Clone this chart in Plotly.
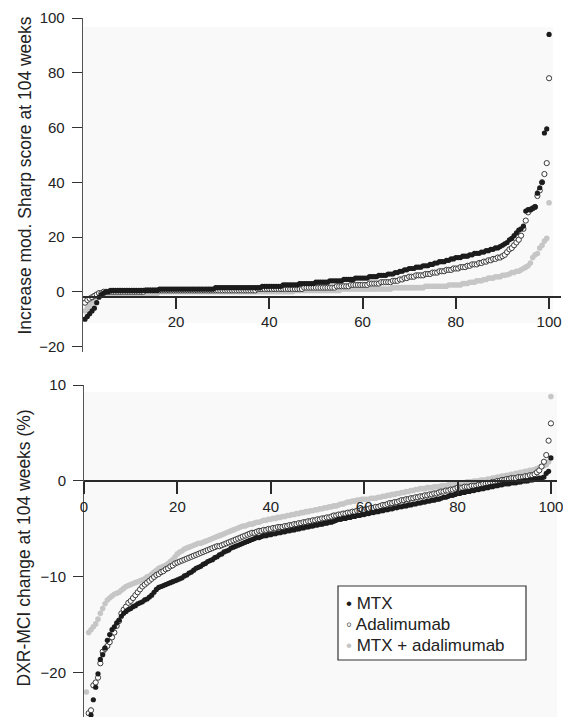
import plotly.graph_objects as go

# ---------------- data (sorted patient values) ----------------
series_names = ["MTX", "Adalimumab", "MTX + adalimumab"]

# Top panel: increase in modified Sharp score at 104 weeks
top_mtx = [
    -10, -9, -8, -7, -6, -4, -2, -1, -0.5, 0, 0, 0.5, 0.5, 0.5, 0.5, 0.5, 0.5, 0.5, 0.5, 0.5,
    0.5, 0.5, 0.5, 0.5, 0.5, 0.5, 0.5, 0.5, 0.5, 0.5, 0.5, 0.5, 1, 1, 1, 1, 1, 1, 1, 1,
    1, 1, 1, 1, 1, 1, 1, 1, 1, 1, 1, 1, 1, 1, 1, 1, 1.5, 1.5, 1.5, 1.5,
    1.5, 1.5, 1.5, 1.5, 1.5, 1.5, 1.5, 1.5, 1.5, 1.5, 1.5, 1.5, 1.5, 1.5, 1.5, 1.5, 2, 2, 2, 2,
    2, 2, 2, 2, 2, 2.5, 2.5, 2.5, 2.5, 2.5, 2.5, 2.5, 3, 3, 3, 3, 3, 3, 3, 3.5,
    3.5, 3.5, 3.5, 3.5, 3.5, 4, 4, 4, 4, 4, 4, 4.5, 4.5, 4.5, 4.5, 4.5, 5, 5, 5, 5,
    5, 5, 5.5, 5.5, 5.5, 5.5, 6, 6, 6, 6, 6.5, 6.5, 6.5, 7, 7, 7.5, 7.5, 8, 8, 8.5,
    8.5, 8.5, 9, 9, 9, 9.5, 9.5, 9.5, 10, 10, 10.5, 10.5, 11, 11, 11, 11.5, 11.5, 12, 12, 12.5,
    12.5, 12.5, 13, 13, 13, 13.5, 13.5, 14, 14, 14, 14.5, 14.5, 15, 15, 15.5, 15.5, 16, 16, 16.5, 17,
    17.5, 18, 19, 19.5, 20.5, 21.5, 22.5, 23, 24, 29.5, 30, 30, 30.5, 31, 36, 38, 40, 58, 59.5, 94,
]
top_ada = [
    -4, -3, -2.5, -2, -1.5, -1, -0.5, -0.5, 0, 0, 0, 0, 0, 0, 0, 0, 0, 0, 0, 0,
    0, 0, 0, 0, 0, 0, 0.5, 0.5, 0.5, 0.5, 0.5, 0.5, 0.5, 0.5, 0.5, 0.5, 0.5, 0.5, 0.5, 0.5,
    0.5, 0.5, 0.5, 0.5, 0.5, 0.5, 0.5, 0.5, 0.5, 0.5, 0.5, 0.5, 0.5, 0.5, 0.5, 0.5, 0.5, 0.5, 0.5, 0.5,
    0.5, 0.5, 0.5, 0.5, 0.5, 0.5, 0.5, 0.5, 0.5, 0.5, 0.5, 0.5, 0.5, 0.5, 1, 1, 1, 1, 1, 1,
    1, 1, 1, 1, 1, 1, 1, 1, 1, 1, 1, 1, 1, 1, 1.5, 1.5, 1.5, 1.5, 1.5, 1.5,
    1.5, 1.5, 1.5, 1.5, 1.5, 1.5, 1.5, 1.5, 2, 2, 2, 2, 2, 2, 2.5, 2.5, 2.5, 2.5, 2.5, 2.5,
    2.5, 2.5, 3, 3, 3, 3, 3, 3.5, 3.5, 3.5, 3.5, 3.5, 4, 4, 4, 4.5, 4.5, 5, 5, 5.5,
    5.5, 5.5, 6, 6, 6, 6, 6.5, 6.5, 6.5, 7, 7, 7, 7.5, 7.5, 7.5, 8, 8, 8, 8.5, 8.5,
    8.5, 9, 9, 9, 9.5, 9.5, 10, 10, 10, 10.5, 10.5, 11, 11, 11.5, 11.5, 12, 12, 12.5, 12.5, 13,
    13.5, 14.5, 15.5, 16, 17, 18, 19, 20.5, 23, 26, 29, 30, 30.5, 31, 35, 37, 40, 43, 47, 78,
]
top_combo = [
    -7, -6, -5, -4, -3, -2, -1.5, -1, -1, -0.5, -0.5, -0.5, -0.5, -0.5, -0.5, -0.5, -0.5, -0.5, -0.5, -0.5,
    -0.5, -0.5, -0.5, -0.5, -0.5, -0.5, -0.5, -0.5, -0.5, -0.5, -0.5, -0.5, 0, 0, 0, 0, 0, 0, 0, 0,
    0, 0, 0, 0, 0, 0, 0, 0, 0, 0, 0, 0, 0, 0, 0, 0, 0, 0, 0, 0,
    0, 0, 0, 0, 0, 0, 0, 0, 0, 0, 0, 0, 0, 0, 0, 0, 0, 0, 0, 0,
    0, 0, 0, 0, 0, 0, 0, 0, 0, 0, 0.5, 0.5, 0.5, 0.5, 0.5, 0.5, 0.5, 0.5, 0.5, 0.5,
    0.5, 0.5, 0.5, 0.5, 0.5, 0.5, 0.5, 0.5, 0.5, 0.5, 1, 1, 1, 1, 1, 1, 1, 1, 1, 1,
    1, 1, 1, 1, 1, 1, 1, 1, 1, 1, 1, 1, 1.5, 1.5, 1.5, 1.5, 1.5, 1.5, 1.5, 1.5,
    1.5, 1.5, 1.5, 1.5, 1.5, 1.5, 2, 2, 2, 2, 2, 2, 2, 2, 2, 2, 2.5, 2.5, 2.5, 2.5,
    2.5, 2.5, 3, 3, 3, 3.5, 3.5, 3.5, 4, 4, 4, 4.5, 4.5, 5, 5, 5, 5.5, 5.5, 5.5, 6,
    6, 6.2, 6.5, 7, 7, 7.5, 7.5, 8, 8.5, 9, 9.5, 10.5, 12.5, 13.5, 14, 16, 17, 18.5, 19.5, 32.5,
]

# Bottom panel: DXR-MCI change at 104 weeks (%)
bot_mtx = [
    -25.5, -25, -24.4, -22.8, -21.5, -20.1, -18.6, -18.1, -17.4, -16.6, -16, -15.5, -15.2, -14.8, -14.5, -14.1, -13.8, -13.6, -13.4, -13.3,
    -13.1, -13, -12.8, -12.7, -12.6, -12.4, -12.3, -12.1, -11.9, -11.6, -11.3, -11.1, -11, -10.9, -10.8, -10.7, -10.6, -10.5, -10.4, -10.3,
    -10.2, -10.1, -9.9, -9.8, -9.6, -9.5, -9.3, -9.1, -9.0, -8.9, -8.7, -8.6, -8.4, -8.3, -8.2, -8.0, -7.9, -7.7, -7.6, -7.4,
    -7.3, -7.2, -7.0, -6.9, -6.8, -6.7, -6.6, -6.5, -6.4, -6.3, -6.2, -6.1, -6.0, -5.9, -5.9, -5.8, -5.7, -5.7, -5.6, -5.6,
    -5.5, -5.5, -5.4, -5.4, -5.3, -5.3, -5.2, -5.2, -5.1, -5.1, -5.0, -5.0, -4.9, -4.9, -4.8, -4.8, -4.7, -4.7, -4.6, -4.6,
    -4.5, -4.5, -4.4, -4.4, -4.3, -4.3, -4.2, -4.1, -4.0, -4.0, -3.9, -3.9, -3.8, -3.8, -3.7, -3.7, -3.6, -3.6, -3.5, -3.5,
    -3.4, -3.4, -3.3, -3.3, -3.2, -3.2, -3.1, -3.1, -3.0, -3.0, -2.9, -2.9, -2.8, -2.8, -2.7, -2.7, -2.6, -2.6, -2.5, -2.5,
    -2.4, -2.4, -2.3, -2.3, -2.2, -2.2, -2.1, -2.1, -2.0, -2.0, -1.9, -1.9, -1.8, -1.7, -1.7, -1.6, -1.5, -1.5, -1.4, -1.3,
    -1.3, -1.2, -1.2, -1.1, -1.1, -1.0, -1.0, -0.9, -0.9, -0.8, -0.8, -0.7, -0.7, -0.6, -0.6, -0.5, -0.5, -0.4, -0.4, -0.3,
    -0.3, -0.3, -0.2, -0.2, -0.2, -0.1, -0.1, 0.0, 0.0, 0.0, 0.1, 0.1, 0.2, 0.2, 0.3, 0.3, 0.4, 0.8, 1.0, 2.4,
]
bot_ada = [
    -25, -24.2, -23.9, -21.3, -21, -20.5, -19, -17.8, -17.5, -17.2, -16.8, -16.3, -15.8, -15.1, -14.6, -13.8, -13.4, -13.1, -12.7, -12.5,
    -12.2, -11.9, -11.6, -11.3, -11.0, -10.8, -10.6, -10.4, -10.2, -10.0, -9.8, -9.7, -9.5, -9.4, -9.2, -9.1, -8.9, -8.8, -8.6, -8.5,
    -8.4, -8.3, -8.2, -8.1, -8.0, -7.9, -7.8, -7.7, -7.6, -7.5, -7.4, -7.3, -7.2, -7.1, -7.0, -6.9, -6.8, -6.8, -6.7, -6.6,
    -6.5, -6.4, -6.3, -6.2, -6.1, -6.0, -5.9, -5.8, -5.7, -5.6, -5.5, -5.4, -5.4, -5.3, -5.2, -5.2, -5.1, -5.1, -5.0, -5.0,
    -4.9, -4.9, -4.8, -4.8, -4.8, -4.7, -4.7, -4.6, -4.6, -4.5, -4.5, -4.4, -4.4, -4.3, -4.3, -4.2, -4.2, -4.1, -4.1, -4.0,
    -4.0, -3.9, -3.9, -3.8, -3.8, -3.7, -3.6, -3.6, -3.5, -3.5, -3.4, -3.4, -3.3, -3.3, -3.2, -3.2, -3.1, -3.1, -3.0, -3.0,
    -2.9, -2.9, -2.8, -2.8, -2.7, -2.7, -2.6, -2.5, -2.5, -2.4, -2.3, -2.3, -2.2, -2.2, -2.1, -2.0, -2.0, -1.9, -1.9, -1.8,
    -1.8, -1.7, -1.7, -1.6, -1.6, -1.5, -1.5, -1.4, -1.4, -1.3, -1.3, -1.2, -1.1, -1.1, -1.0, -1.0, -0.9, -0.9, -0.8, -0.7,
    -0.7, -0.7, -0.6, -0.6, -0.6, -0.5, -0.5, -0.5, -0.4, -0.4, -0.3, -0.3, -0.2, -0.2, -0.1, -0.1, 0.0, 0.0, 0.1, 0.1,
    0.2, 0.2, 0.3, 0.3, 0.3, 0.4, 0.4, 0.4, 0.5, 0.5, 0.6, 0.6, 0.7, 0.9, 1.1, 1.5, 2.0, 2.7, 4.2, 6.0,
]
bot_combo = [
    -22, -15.8, -15.5, -15.2, -14.9, -14.4, -13.8, -13.3, -12.8, -12.4, -12.2, -12.0, -11.8, -11.7, -11.6, -11.4, -11.2, -11.0, -10.9, -10.8,
    -10.7, -10.6, -10.5, -10.4, -10.3, -10.2, -10.0, -9.9, -9.7, -9.5, -9.3, -9.1, -9.0, -8.9, -8.8, -8.6, -8.4, -8.2, -7.9, -7.6,
    -7.4, -7.3, -7.1, -7.0, -6.9, -6.8, -6.7, -6.6, -6.5, -6.5, -6.4, -6.3, -6.2, -6.1, -6.0, -5.9, -5.8, -5.7, -5.6, -5.5,
    -5.4, -5.3, -5.2, -5.1, -5.0, -4.9, -4.8, -4.7, -4.7, -4.6, -4.5, -4.5, -4.4, -4.3, -4.3, -4.2, -4.1, -4.1, -4.0, -4.0,
    -3.9, -3.9, -3.8, -3.8, -3.7, -3.7, -3.6, -3.6, -3.5, -3.5, -3.4, -3.4, -3.3, -3.3, -3.2, -3.2, -3.1, -3.1, -3.0, -3.0,
    -2.9, -2.9, -2.8, -2.8, -2.7, -2.7, -2.6, -2.6, -2.5, -2.4, -2.4, -2.3, -2.2, -2.2, -2.1, -2.1, -2.0, -2.0, -1.9, -1.9,
    -1.9, -1.9, -1.8, -1.8, -1.8, -1.7, -1.7, -1.6, -1.6, -1.5, -1.5, -1.4, -1.4, -1.3, -1.3, -1.2, -1.2, -1.1, -1.1, -1.0,
    -1.0, -0.9, -0.9, -0.8, -0.8, -0.8, -0.7, -0.7, -0.7, -0.6, -0.6, -0.6, -0.5, -0.5, -0.5, -0.4, -0.4, -0.4, -0.3, -0.3,
    -0.2, -0.2, -0.2, -0.1, -0.1, -0.1, 0.0, 0.0, 0.0, 0.1, 0.1, 0.1, 0.2, 0.2, 0.3, 0.3, 0.4, 0.4, 0.5, 0.5,
    0.6, 0.6, 0.7, 0.7, 0.8, 0.8, 0.9, 0.9, 1.0, 1.0, 1.1, 1.1, 1.2, 1.3, 1.4, 1.5, 1.6, 1.7, 2.0, 8.8,
]

top_yticks = [-20, 0, 20, 40, 60, 80, 100]
top_xticks = [20, 40, 60, 80, 100]
bot_yticks = [-20, -10, 0, 10]
bot_xticks = [0, 20, 40, 60, 80, 100]

top_title = "Increase mod. Sharp score at 104 weeks"
bot_title = "DXR-MCI change at 104 weeks (%)"


def ranks(values):
    """Percentile rank (0-100) of each sorted patient value."""
    n = len(values)
    return [100.0 * (i + 1) / n for i in range(n)]


# ---------------- styling ----------------
W, H = 563, 717
FONT = "Liberation Sans, Arial, Helvetica, sans-serif"
TXT = "#222222"
DARK = "#1c1c1c"
OPEN_LINE = "#3a3a3a"
LIGHT = "#c6c6c6"

styles = {
    "MTX": dict(color=DARK, size=5.2, symbol="circle", line=dict(width=0)),
    "Adalimumab": dict(color="white", size=5.2, symbol="circle", line=dict(color=OPEN_LINE, width=1)),
    "MTX + adalimumab": dict(color=LIGHT, size=5.6, symbol="circle", line=dict(width=0)),
}

fig = go.Figure()

# draw order: light grey first, then open, then dark on top
panels = [
    ("x", "y", {"MTX": top_mtx, "Adalimumab": top_ada, "MTX + adalimumab": top_combo}),
    ("x2", "y2", {"MTX": bot_mtx, "Adalimumab": bot_ada, "MTX + adalimumab": bot_combo}),
]
for xa, ya, data in panels:
    for name in ["MTX + adalimumab", "Adalimumab", "MTX"]:
        vals = data[name]
        fig.add_trace(go.Scatter(
            x=ranks(vals), y=vals, mode="markers", name=name,
            marker=styles[name], xaxis=xa, yaxis=ya, showlegend=False,
            cliponaxis=True, hoverinfo="skip",
        ))

# ---------------- axes ----------------
def px2fx(px):
    return px / W


def py2fy(py):
    return 1 - py / H


top_dom = [py2fy(352), py2fy(18)]
top_range = [-22, 100]
bot_dom = [0, py2fy(385)]
bot_range = [-24.6, 10]

# x axis of the top panel crosses slightly below y = 0
top_cross = -1.8
top_xpos = top_dom[0] + (top_cross - top_range[0]) / (top_range[1] - top_range[0]) * (top_dom[1] - top_dom[0])
bot_xpos = bot_dom[0] + (0 - bot_range[0]) / (bot_range[1] - bot_range[0]) * (bot_dom[1] - bot_dom[0])

tickfont = dict(family=FONT, size=15, color=TXT)
common_x = dict(showgrid=False, zeroline=False, showline=True, linecolor="#2a2a2a", linewidth=1.6,
                ticks="outside", ticklen=12, tickwidth=2, tickcolor="#2a2a2a",
                tickfont=tickfont, anchor="free", automargin=False, ticklabeloverflow="allow")
common_y = dict(showgrid=False, zeroline=False, showline=True, linecolor="#555555", linewidth=1,
                ticks="outside", ticklen=10, tickwidth=1.3, tickcolor="#333333",
                tickfont=tickfont, ticklabelstandoff=4, automargin=False, ticklabeloverflow="allow")

fig.update_layout(
    width=W, height=H,
    margin=dict(l=0, r=0, t=0, b=0, pad=0, autoexpand=False),
    paper_bgcolor="white", plot_bgcolor="rgba(0,0,0,0)",
    font=dict(family=FONT, color=TXT),
    showlegend=False,
    xaxis=dict(domain=[px2fx(82.7), px2fx(560.5)], range=[0, 102.45],
               tickvals=top_xticks, position=top_xpos, **common_x),
    yaxis=dict(domain=top_dom, range=top_range, tickvals=top_yticks, anchor="x", **common_y),
    xaxis2=dict(domain=[px2fx(84), px2fx(557)], range=[0, 101.3],
                tickvals=bot_xticks, position=bot_xpos, **common_x),
    yaxis2=dict(domain=bot_dom, range=bot_range, tickvals=bot_yticks, anchor="x2", **common_y),
)

# faint panel backgrounds
fig.add_shape(type="rect", xref="paper", yref="paper", layer="below",
              x0=px2fx(83), x1=px2fx(553), y0=py2fy(323), y1=py2fy(27),
              fillcolor="#f9f9f9", line=dict(width=0))
fig.add_shape(type="rect", xref="paper", yref="paper", layer="below",
              x0=px2fx(84), x1=px2fx(557), y0=0, y1=py2fy(392),
              fillcolor="#f9f9f9", line=dict(width=0))

# axis titles
fig.add_annotation(text=top_title, xref="paper", yref="paper", x=px2fx(24.5), y=py2fy(176),
                   xanchor="center", yanchor="middle",
                   textangle=-90, showarrow=False, font=dict(family=FONT, size=17.5, color=TXT))
fig.add_annotation(text=bot_title, xref="paper", yref="paper", x=px2fx(23.5), y=py2fy(548),
                   xanchor="center", yanchor="middle",
                   textangle=-90, showarrow=False, font=dict(family=FONT, size=17.5, color=TXT))

# legend box
fig.add_shape(type="rect", xref="paper", yref="paper", layer="above",
              x0=px2fx(338), x1=px2fx(526), y0=py2fy(660), y1=py2fy(586),
              fillcolor="white", line=dict(color="#333333", width=1.2))
legend_rows = [
    (series_names[0], DARK, "\u2022", 603),
    (series_names[1], OPEN_LINE, "\u25e6", 624),
    (series_names[2], LIGHT, "\u2022", 645),
]
for name, col, glyph, ypx in legend_rows:
    fig.add_annotation(
        text=f"<span style='color:{col}'>{glyph}</span> {name}",
        xref="paper", yref="paper", x=px2fx(344), y=py2fy(ypx),
        xanchor="left", yanchor="middle", showarrow=False,
        font=dict(family=FONT, size=17, color=TXT),
    )

fig.write_html(
    "out.html",
    config={"displayModeBar": False},
    post_script="document.body.style.margin='0';document.body.style.overflow='hidden';",
)
